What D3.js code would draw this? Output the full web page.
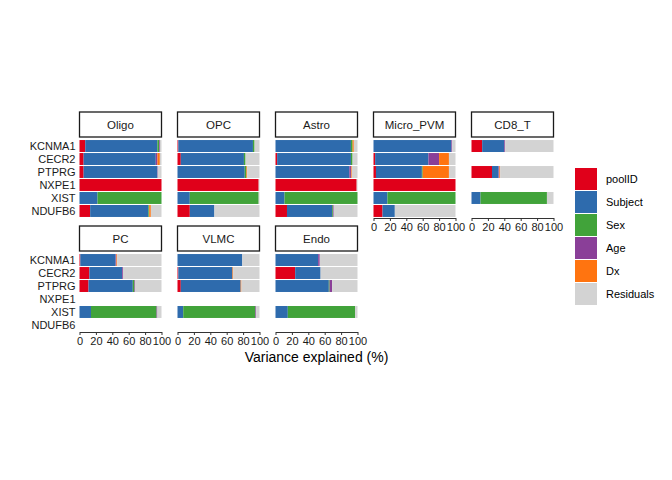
<!DOCTYPE html>
<html><head><meta charset="utf-8">
<script src="https://cdn.jsdelivr.net/npm/d3@7"></script>
<style>body{margin:0;background:#fff}svg{font-family:"Liberation Sans",Arial,sans-serif}</style>
</head><body><div id="chart"></div>
<script>
var genes = ["KCNMA1","CECR2","PTPRG","NXPE1","XIST","NDUFB6"]
var components = ["poolID","Subject","Sex","Age","Dx","Residuals"]
var colors = ["#E0001A","#2E6BAD","#41A33A","#8A3F98","#FF7410","#D3D3D3"]
var cellTypes = ["Oligo","OPC","Astro","Micro_PVM","CD8_T","PC","VLMC","Endo"]
// per gene: poolID, Subject, Sex, Age, Dx (residual = rest); null = gene not tested
var oligo = [[7,88,2,1,0],[5,88,0,2,3],[5,90,0,0.5,0],[100,0,0,0,0],[0,22,78,0,0],[13,71,1,0,2]]
var opc = [[1,91,2,0,0],[4,77,2,0,0],[0,82,2,0,1],[99,0,0,0,0],[0,15,84,0,0],[15,30,0,0,0]]
var astro = [[0,92,2,0,1.5],[2,90,2,0,0],[0,90,0,2,1],[99,0,0,0,0],[0,11,89,0,0],[14,55,1,1,0]]
var micro = [[0,95,0,1,0],[2,65,0,13,12],[3,56,1,0,32],[100,0,0,0,0],[0,17,83,0,0],[11,15,0,0,0]]
var cd8 = [[13,27,0,1,0],null,[25,8,0,1,1],null,[0,11,81,0,0],null]
var pc = [[1,43,0,1,1],[12,40,0,1,0],[11,54,2,1,0],null,[0,14,80,1,0],null]
var vlmc = [[0,79,0,0,0],[1,66,0,0,1],[4,73,0,0,1],null,[0,7,88,1,0],null]
var endo = [[0,52,0,2,0],[24,31,0,0,0],[0,65,1,3,0],null,[0,15,82,0,0],null]
var panelData = [oligo,opc,astro,micro,cd8,pc,vlmc,endo]

var svg = d3.select('#chart').append('svg').attr('width',672).attr('height',480)
var pw = 82, gapX = 16, x0 = 79.5
var rowTop = [139, 253], ph = 79, stripH = 25

var x = d3.scaleLinear().domain([0,100]).range([0,pw])
var y = d3.scaleBand().domain(genes).range([0,ph]).padding(0.08)

cellTypes.forEach(function(ct,i){
  var col = i<5 ? i : i-5, row = i<5 ? 0 : 1
  var g = svg.append('g').attr('transform','translate('+(x0+col*(pw+gapX))+','+rowTop[row]+')')
  // strip
  g.append('rect').attr('x',0).attr('y',-stripH-2).attr('width',pw).attr('height',stripH)
    .attr('fill','#fff').attr('stroke','#1a1a1a').attr('stroke-width',1.3)
  g.append('text').attr('x',pw/2).attr('y',-stripH/2-2).attr('dy','0.35em')
    .attr('text-anchor','middle').attr('font-size',11.5).attr('fill','#1a1a1a').text(ct)
  panelData[i].forEach(function(v,gi){
    if(!v) return
    var vals = v.concat([Math.max(0,100-d3.sum(v))])
    var cum = 0
    vals.forEach(function(d,k){
      g.append('rect').attr('x',x(cum)).attr('y',y(genes[gi]))
        .attr('width',x(d)).attr('height',y.bandwidth()).attr('fill',colors[k])
      cum += d
    })
  })
  if(col==0){
    g.append('g').call(d3.axisLeft(y).tickSize(0).tickPadding(4))
      .call(function(a){a.select('.domain').remove()})
      .selectAll('text').attr('font-size',11).attr('fill','#1a1a1a').attr('font-family','Liberation Sans')
  }
  if(row==1 || col>=3){
    var ax = g.append('g').attr('transform','translate(0,'+ph+')')
      .call(d3.axisBottom(x).tickValues([0,20,40,60,80,100]).tickSize(3).tickPadding(2).tickSizeOuter(0))
    ax.selectAll('text').attr('font-size',11).attr('fill','#1a1a1a').attr('font-family','Liberation Sans')
    ax.selectAll('line,path').attr('stroke','#333')
  }
})

svg.append('text').attr('x',x0+(5*pw+4*gapX)/2).attr('y',362).attr('text-anchor','middle')
  .attr('font-size',14).attr('fill','#000').text('Variance explained (%)')

var lg = svg.append('g').attr('transform','translate(575,168)')
components.forEach(function(c,i){
  lg.append('rect').attr('x',0).attr('y',i*23).attr('width',22).attr('height',22).attr('fill',colors[i])
  lg.append('text').attr('x',31).attr('y',i*23+11).attr('dy','0.35em').attr('font-size',11).attr('fill','#000').text(c)
})
</script></body></html>
